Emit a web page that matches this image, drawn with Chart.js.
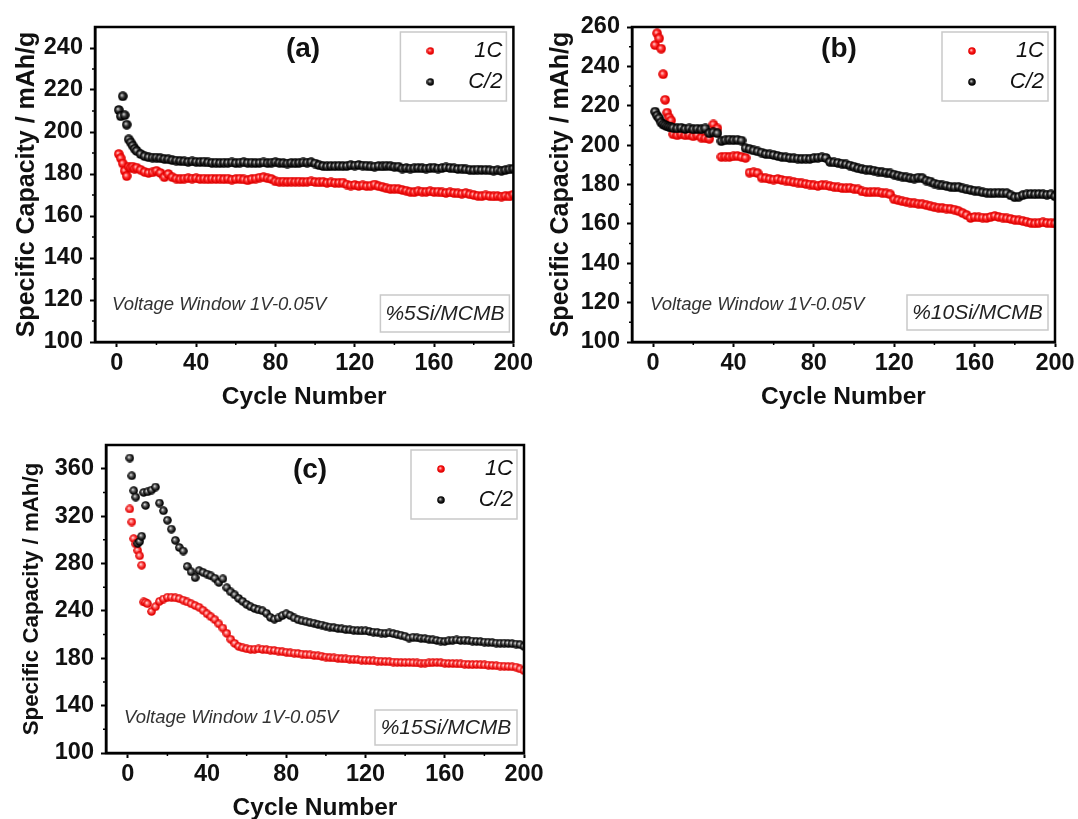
<!DOCTYPE html>
<html lang="en">
<head>
<meta charset="utf-8">
<title>Cycling performance of Si/MCMB electrodes</title>
<script src="https://cdn.jsdelivr.net/npm/chart.js@4.4.1/dist/chart.umd.min.js"></script>
<style>
    html, body { margin: 0; padding: 0; background: #fff; }
    body { position: relative; width: 1078px; height: 819px; overflow: hidden; }
    canvas { position: absolute; }
    #chartA { left: 0; top: 0; }
    #chartB { left: 535px; top: 0; }
    #chartC { left: 0; top: 420px; }
</style>
</head>
<body>
<canvas id="chartA" width="535" height="415"></canvas>
<canvas id="chartB" width="543" height="415"></canvas>
<canvas id="chartC" width="548" height="405"></canvas>
<script>
// Cycle numbers shared by every series (every cycle at the start, then every 2nd)
const cycles = [
    1, 2, 3, 4, 5, 6, 7, 8, 9, 10,
    12, 14, 16, 18, 20, 22, 24, 26, 28, 30,
    32, 34, 36, 38, 40, 42, 44, 46, 48, 50,
    52, 54, 56, 58, 60, 62, 64, 66, 68, 70,
    72, 74, 76, 78, 80, 82, 84, 86, 88, 90,
    92, 94, 96, 98, 100, 102, 104, 106, 108, 110,
    112, 114, 116, 118, 120, 122, 124, 126, 128, 130,
    132, 134, 136, 138, 140, 142, 144, 146, 148, 150,
    152, 154, 156, 158, 160, 162, 164, 166, 168, 170,
    172, 174, 176, 178, 180, 182, 184, 186, 188, 190,
    192, 194, 196, 198, 200
];

// (a) %5Si/MCMB, mAh/g
const capA_1C = [
    189.5, 187.5, 185.0, 181.5, 179.0, 183.5, 183.0, 183.5, 182.5, 183.0,
    182.0, 181.0, 180.5, 180.8, 181.5, 180.5, 178.5, 180.0, 178.5, 177.8,
    177.5, 177.8, 178.0, 177.8, 178.0, 177.6, 177.8, 177.5, 177.8, 177.6,
    177.8, 177.5, 177.8, 177.3, 177.6, 177.8, 177.4, 177.0, 177.6, 177.8,
    178.3, 178.5, 178.0, 177.6, 176.5, 176.3, 176.4, 176.2, 176.4, 176.3,
    176.4, 176.2, 176.3, 176.5, 176.2, 176.0, 176.3, 175.8, 176.0, 175.8,
    175.8, 175.9, 175.0, 174.5, 174.8, 174.3, 174.6, 174.2, 174.4, 175.0,
    174.2, 173.8, 173.2, 172.8, 173.0, 172.8, 172.4, 172.0, 171.5, 171.3,
    171.8, 171.6, 171.5, 171.8, 171.4, 171.6, 171.2, 171.0, 171.3, 171.0,
    170.8, 170.6, 170.9, 170.3, 170.0, 169.6, 169.4, 169.8, 169.5, 169.3,
    169.5, 169.2, 169.6, 169.3, 170.2
];
const capA_C2 = [
    210.5, 207.5, 217.0, 208.0, 203.5, 196.5, 195.0, 193.5, 192.0, 191.0,
    189.5, 188.5, 188.0, 187.8, 187.8, 187.5, 187.2, 187.0, 186.6, 186.4,
    186.2, 186.0, 185.8, 186.0, 185.8, 185.7, 185.9, 185.5, 185.3, 185.4,
    185.2, 185.4, 185.3, 185.5, 185.2, 185.4, 185.6, 185.3, 185.4, 185.2,
    185.3, 185.5, 185.2, 185.4, 185.6, 185.3, 185.2, 185.0, 185.3, 185.1,
    185.3, 185.5, 185.4, 185.6, 185.0, 184.2, 183.8, 183.6, 183.8, 183.7,
    183.9, 183.7, 183.8, 184.2, 184.0, 184.3, 184.0, 183.9, 183.6, 183.5,
    183.8, 183.6, 183.9, 183.7, 183.4, 183.5, 182.6, 182.8, 182.6, 182.7,
    182.9, 182.7, 182.6, 182.8, 183.0, 182.6, 182.8, 183.1, 182.9, 182.7,
    182.4, 182.6, 182.2, 182.0, 181.8, 182.1, 181.9, 182.0, 181.8, 181.6,
    181.8, 181.5, 181.9, 182.2, 182.5
];

// (b) %10Si/MCMB, mAh/g
const capB_1C = [
    250.8, 256.8, 254.2, 249.0, 236.0, 223.0, 216.5, 214.0, 212.5, 205.5,
    205.0, 205.5, 205.0, 205.2, 204.5, 205.0, 203.8, 203.5, 203.2, 210.5,
    208.5, 194.0, 194.2, 194.0, 194.3, 194.5, 194.0, 193.5, 186.0, 186.2,
    185.8, 183.5, 183.2, 182.8, 182.5, 182.8, 182.3, 182.0, 181.6, 181.2,
    181.0, 180.6, 180.3, 180.0, 179.6, 179.3, 179.8, 179.5, 179.2, 178.8,
    178.5, 178.2, 178.0, 178.3, 177.8, 177.5, 176.5, 176.2, 176.0, 176.3,
    176.0, 175.8, 175.5, 175.0, 172.5, 172.0, 171.5, 171.2, 170.8, 170.5,
    170.2, 170.0, 169.5, 169.0, 168.5, 168.2, 168.0, 167.8, 167.6, 167.2,
    166.5, 165.5, 164.5, 163.0, 163.5, 163.3, 163.2, 163.0, 163.5, 164.0,
    163.5, 163.2, 162.8, 162.5, 162.0, 161.8, 161.5, 161.0, 160.5, 160.2,
    160.5, 160.8, 160.5, 160.3, 160.2
];
const capB_C2 = [
    217.0, 215.0, 213.6, 211.5, 210.5, 210.0, 209.5, 209.3, 209.0, 208.8,
    208.5, 208.8, 208.2, 208.5, 208.0, 208.3, 208.0, 208.5, 206.0, 206.5,
    206.0, 202.0, 202.5, 202.8, 202.5, 202.7, 202.3, 198.5, 198.0, 197.3,
    196.8, 196.2, 195.5, 195.3, 195.0, 194.5, 194.0, 193.8, 193.5, 193.3,
    193.2, 193.0, 193.2, 193.0, 193.4, 193.6, 193.8, 193.5, 191.5, 191.2,
    191.0, 190.6, 190.2, 189.6, 189.0, 188.2, 187.8, 187.5, 187.3, 187.0,
    186.6, 186.2, 186.0, 185.6, 185.0, 184.5, 184.0, 183.6, 183.2, 183.0,
    183.5, 183.2, 182.0, 181.5, 180.5, 180.0, 179.5, 179.3, 178.8, 178.5,
    178.8, 178.0, 177.5, 177.2, 176.8, 176.5, 176.0, 175.8, 175.5, 175.6,
    175.8, 175.5, 175.6, 174.5, 173.5, 173.8, 174.6, 175.0, 175.2, 175.0,
    175.2, 175.0, 174.8, 175.0, 174.0
];

// (c) %15Si/MCMB, read against evenly spaced axis steps (see yTickLabelsC)
const capC_1C = [
    306.0, 295.0, 281.0, 276.5, 271.0, 266.5, 258.5, 227.5, 227.0, 226.0,
    219.5, 223.5, 228.0, 230.0, 231.5, 231.5, 231.0, 230.3, 229.0, 227.5,
    226.0, 224.5, 223.0, 220.5, 217.5, 215.0, 212.5, 209.0, 205.5, 201.0,
    196.0, 192.5, 190.0, 188.8, 188.0, 187.5, 187.6, 187.8, 187.5, 187.2,
    186.8, 186.5, 186.0, 185.5, 185.0, 184.5, 184.3, 184.0, 183.5, 183.0,
    182.8, 182.3, 182.0, 181.6, 181.0, 180.5, 180.2, 180.0, 179.6, 179.4,
    179.2, 179.0, 178.8, 178.4, 178.2, 178.0, 177.8, 177.6, 177.4, 177.2,
    177.0, 176.8, 176.6, 176.5, 176.3, 176.4, 176.2, 176.0, 175.8, 175.9,
    176.0, 176.3, 176.5, 176.2, 175.8, 175.6, 175.5, 175.3, 175.2, 175.0,
    174.8, 174.6, 174.8, 174.5, 174.3, 174.2, 173.9, 173.6, 173.4, 173.2,
    173.0, 172.8, 172.5, 171.0, 169.5
];
const capC_C2 = [
    349.0, 334.0, 321.5, 316.0, 277.0, 278.5, 283.0, 320.0, 309.0, 320.5,
    322.0, 324.5, 311.0, 304.5, 296.5, 289.0, 279.5, 273.5, 270.5, 257.5,
    253.0, 248.0, 254.0, 252.5, 251.0, 249.5, 247.5, 244.0, 247.0, 239.5,
    236.0, 233.5, 230.5, 228.0, 225.5, 223.5, 222.0, 220.8, 220.0, 218.0,
    214.5, 213.0, 214.0, 216.0, 217.5, 216.0, 214.0, 212.5, 211.5, 210.8,
    210.0, 209.5, 208.5, 208.0, 207.0, 206.3, 205.8, 205.2, 204.8, 204.2,
    204.0, 203.6, 203.3, 203.0, 203.2, 202.6, 202.0, 201.8, 201.2, 201.0,
    201.3, 200.8, 200.0, 199.3, 198.5, 197.0, 197.8, 197.2, 196.8, 196.5,
    196.0, 195.5, 195.0, 194.5, 194.2, 194.8, 195.2, 195.4, 195.0, 195.3,
    194.8, 194.5, 194.2, 194.0, 193.6, 193.5, 193.2, 192.8, 192.6, 192.8,
    192.5, 192.3, 192.0, 191.5, 190.0
];

// The printed labels of panel (c) are evenly spaced but not evenly valued
const yTickValuesC = [100, 140, 180, 220, 260, 300, 340];
const yTickLabelsC = ['100', '140', '180', '240', '280', '320', '360'];

const seriesNames = ['1C', 'C/2'];
const FONT = '"Liberation Sans", Arial, sans-serif';

/**
 * Shaded ball sprite used as point style (Origin-like marker)
 */
function makeBall(size, light, mid, dark) {
    const c = document.createElement('canvas');
    c.width = c.height = size;
    const ctx = c.getContext('2d');
    const r = size / 2 - 0.2;
    const g = ctx.createRadialGradient(size / 2 - r * 0.25, size / 2 - r * 0.25, 0, size / 2, size / 2, r);
    g.addColorStop(0, light);
    g.addColorStop(0.45, mid);
    g.addColorStop(0.85, dark);
    g.addColorStop(1, dark);
    ctx.fillStyle = g;
    ctx.beginPath();
    ctx.arc(size / 2, size / 2, r, 0, Math.PI * 2);
    ctx.fill();
    return c;
}

const redBall = makeBall(10, '#ffe0e0', '#ff3030', '#e00000');
const blackBall = makeBall(10, '#e6e6e6', '#3a3a3a', '#000000');
const redBallC = makeBall(9, '#fff0f0', '#ff5050', '#e00000');
const blackBallC = makeBall(9, '#f0f0f0', '#505050', '#000000');
const redDot = makeBall(8, '#ffe0e0', '#ff2020', '#e00000');
const blackDot = makeBall(8, '#e0e0e0', '#303030', '#000000');

/**
 * Frame, minor ticks, legend and labels drawn inside each panel
 */
const panelDecor = {
    id: 'panelDecor',
    afterDraw(chart, args, opts) {
        const { ctx, chartArea: a, scales } = chart;
        const L = a.left, T = a.top, R = a.right, B = a.bottom;
        ctx.save();

        // closed frame
        ctx.strokeStyle = '#000';
        ctx.lineWidth = 2.5;
        ctx.strokeRect(L, T, R - L, B - T);

        // minor ticks
        ctx.lineWidth = 1.5;
        ctx.beginPath();
        opts.xMinor.forEach(v => {
            const px = scales.x.getPixelForValue(v);
            ctx.moveTo(px, B);
            ctx.lineTo(px, B + 3);
        });
        opts.yMinor.forEach(v => {
            const py = scales.y.getPixelForValue(v);
            ctx.moveTo(L, py);
            ctx.lineTo(L - 3, py);
        });
        ctx.stroke();

        // panel tag
        ctx.fillStyle = '#111';
        ctx.font = `bold 28px ${FONT}`;
        ctx.textAlign = 'center';
        ctx.textBaseline = 'middle';
        ctx.fillText(opts.tag, L + opts.tagAt[0], T + opts.tagAt[1]);

        // legend
        ctx.strokeStyle = '#c9c9c9';
        ctx.lineWidth = 1.5;
        ctx.strokeRect(R - 113, T + 5, 106, 69);
        const sprites = [redDot, blackDot];
        seriesNames.forEach((name, i) => {
            const y = T + 24 + i * 31;
            const s = sprites[i];
            ctx.drawImage(s, R - 83 - s.width / 2, y - s.height / 2);
            ctx.font = `italic 22px ${FONT}`;
            ctx.textAlign = 'right';
            ctx.fillStyle = '#111';
            ctx.fillText(name, R - 11, y);
        });

        // voltage note
        ctx.font = `italic 18.5px ${FONT}`;
        ctx.textAlign = 'left';
        ctx.fillStyle = '#333';
        ctx.fillText('Voltage Window 1V-0.05V', L + opts.noteAt[0], B - opts.noteAt[1]);

        // sample box
        const sb = opts.sampleBox;
        const x0 = R - sb[0], x1 = R - sb[1], y0 = B - sb[2], y1 = B - sb[3];
        ctx.strokeStyle = '#c9c9c9';
        ctx.strokeRect(x0, y0, x1 - x0, y1 - y0);
        ctx.font = `italic 21px ${FONT}`;
        ctx.textAlign = 'center';
        ctx.fillStyle = '#222';
        ctx.fillText(opts.sample, (x0 + x1) / 2, (y0 + y1) / 2 + 1);

        ctx.restore();
    }
};

const CyclingCharts = {
    charts: new Map(),

    /**
     * Build a scatter dataset from the shared cycle list
     */
    dataset(label, values, sprite, order) {
        return {
            label,
            data: cycles.map((c, i) => ({ x: c, y: values[i] })),
            pointStyle: sprite,
            pointRadius: 5,
            order
        };
    },

    /**
     * Create one panel
     * @param {string} canvasId - Canvas element ID
     * @param {Object} p - Panel settings
     */
    createPanel(canvasId, p) {
        const canvas = document.getElementById(canvasId);
        if (!canvas) return null;

        const tickFont = { family: FONT, size: 23.5, weight: 'bold' };
        const axisGrid = {
            drawOnChartArea: false,
            drawTicks: true,
            tickLength: 5,
            tickWidth: 2,
            tickColor: '#000'
        };
        const axisBorder = { display: true, color: '#000', width: 2.5 };

        const yScale = {
            type: 'linear',
            min: 100,
            max: p.yMax,
            grid: axisGrid,
            border: axisBorder,
            ticks: {
                stepSize: p.yStep,
                includeBounds: false,
                autoSkip: false,
                padding: 7,
                color: '#111',
                font: tickFont,
                callback: p.yLabel || ((v) => v)
            },
            title: {
                display: true,
                text: 'Specific Capacity / mAh/g',
                color: '#111',
                font: { family: FONT, size: p.yTitleSize, weight: 'bold' },
                padding: { top: p.yTitlePad, bottom: 0 }
            },
            afterFit: (scale) => { scale.width = p.yWidth; }
        };
        if (p.yTicks) {
            yScale.afterBuildTicks = (scale) => {
                scale.ticks = p.yTicks.map(v => ({ value: v }));
            };
        }

        const chart = new Chart(canvas.getContext('2d'), {
            type: 'scatter',
            data: {
                datasets: [
                    this.dataset(seriesNames[0], p.red, p.sprites[0], 1),
                    this.dataset(seriesNames[1], p.black, p.sprites[1], 0)
                ]
            },
            options: {
                responsive: false,
                animation: false,
                devicePixelRatio: 1,
                layout: { padding: { top: p.padTop, right: p.padRight, left: 0, bottom: 0 } },
                plugins: {
                    legend: { display: false },
                    tooltip: { enabled: false },
                    panelDecor: p.decor
                },
                scales: {
                    x: {
                        type: 'linear',
                        position: 'bottom',
                        min: p.xMin,
                        max: 200,
                        grid: axisGrid,
                        border: axisBorder,
                        ticks: {
                            stepSize: 40,
                            includeBounds: false,
                            maxRotation: 0,
                            autoSkip: false,
                            padding: 2,
                            color: '#111',
                            font: tickFont
                        },
                        title: {
                            display: true,
                            text: 'Cycle Number',
                            color: '#111',
                            font: { family: FONT, size: 24.5, weight: 'bold' },
                            padding: { top: 0, bottom: p.xTitlePad }
                        },
                        afterFit: (scale) => { scale.height = p.xHeight; }
                    },
                    y: yScale
                }
            },
            plugins: [panelDecor]
        });

        this.charts.set(canvasId, chart);
        return chart;
    }
};

const xMinor = [20, 60, 100, 140, 180];

CyclingCharts.createPanel('chartA', {
    red: capA_1C, black: capA_C2, sprites: [redBall, blackBall],
    xMin: -11, yMax: 250, yStep: 20,
    padTop: 27, padRight: 17, yWidth: 95, xHeight: 73,
    xTitlePad: 3.3, yTitleSize: 25, yTitlePad: 12,
    decor: {
        tag: '(a)', tagAt: [208, 22],
        noteAt: [17, 37], sampleBox: [133, 4, 47, 10], sample: '%5Si/MCMB',
        xMinor, yMinor: [110, 130, 150, 170, 190, 210, 230]
    }
});

CyclingCharts.createPanel('chartB', {
    red: capB_1C, black: capB_C2, sprites: [redBall, blackBall],
    xMin: -10.5, yMax: 260, yStep: 20,
    padTop: 27, padRight: 23, yWidth: 97, xHeight: 73,
    xTitlePad: 3.3, yTitleSize: 25, yTitlePad: 11.6,
    decor: {
        tag: '(b)', tagAt: [207, 22],
        noteAt: [18, 37], sampleBox: [148, 7, 47, 12], sample: '%10Si/MCMB',
        xMinor, yMinor: [110, 130, 150, 170, 190, 210, 230, 250]
    }
});

CyclingCharts.createPanel('chartC', {
    red: capC_1C, black: capC_C2, sprites: [redBallC, blackBallC],
    xMin: -11, yMax: 360, yStep: 40, yTicks: yTickValuesC,
    yLabel: (v, i) => yTickLabelsC[i],
    padTop: 25, padRight: 24, yWidth: 106, xHeight: 72,
    xTitlePad: 2.3, yTitleSize: 22.3, yTitlePad: 18.6,
    decor: {
        tag: '(c)', tagAt: [204, 25],
        noteAt: [18, 35], sampleBox: [149, 7, 43, 8], sample: '%15Si/MCMB',
        xMinor, yMinor: [120, 160, 200, 240, 280, 320]
    }
});
</script>
</body>
</html>
